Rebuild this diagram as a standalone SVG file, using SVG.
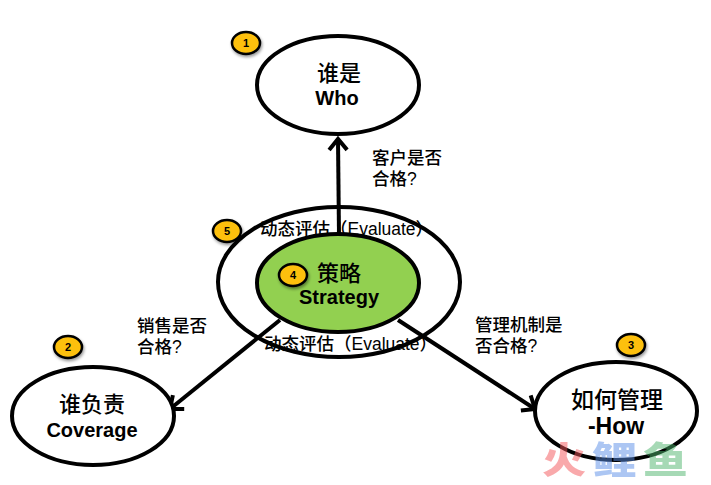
<svg xmlns="http://www.w3.org/2000/svg" width="711" height="485" viewBox="0 0 711 485">
<style>
text{font-family:"Liberation Sans","Noto Sans CJK SC",sans-serif;fill:#000}
.n{fill:#fff;stroke:#000;stroke-width:4}
.c{fill:none;stroke:#000;stroke-width:4}
.cn{font-size:22px;font-weight:500;text-anchor:middle}
.en{font-size:20px;font-weight:700;text-anchor:middle}
.lb{font-size:17.5px;font-weight:500}
.b{fill:#fdc010;stroke:#000;stroke-width:2.5;filter:url(#s)}
.bt{font-size:11px;font-weight:700;text-anchor:middle}
.wm{font-size:42px;font-weight:900;font-family:"Noto Sans CJK SC",sans-serif}
</style>
<defs>
<filter id="s" x="-30%" y="-30%" width="170%" height="170%"><feDropShadow dx="1" dy="2" stdDeviation="1.5" flood-color="#000" flood-opacity=".4"/></filter>
<marker id="a" markerUnits="userSpaceOnUse" markerWidth="24" markerHeight="24" refX="15" refY="12" orient="auto"><path d="M4 3L15 12L4 21" fill="none" stroke="#000" stroke-width="4"/></marker>
</defs>
<g id="outer"><ellipse class="n" cx="339" cy="282" rx="121" ry="75"/></g>
<g id="connectors">
<path class="c" d="M339 236L338 139" marker-end="url(#a)"/>
<path class="c" d="M280 320L170 409" marker-end="url(#a)"/>
<path class="c" d="M398 320L535 409" marker-end="url(#a)"/>
</g>
<g id="eval-top"><text class="lb" x="260" y="235">动态评估（Evaluate）</text></g>
<g id="strategy"><ellipse class="n" cx="338" cy="283" rx="81" ry="49" style="fill:#92d050"/>
<text class="cn" x="339" y="281">策略</text><text class="en" x="339" y="304">Strategy</text>
<ellipse class="b" cx="293" cy="275" rx="14" ry="11"/><text class="bt" x="293" y="279">4</text></g>
<g id="eval-bottom"><text class="lb" x="264" y="350">动态评估（Evaluate）</text></g>
<g id="who"><ellipse class="n" cx="338" cy="85" rx="81" ry="49"/>
<text class="cn" x="339" y="81">谁是</text><text class="en" x="337" y="105">Who</text></g>
<g id="coverage"><ellipse class="n" cx="93" cy="416" rx="81" ry="49"/>
<text class="cn" x="92" y="412">谁负责</text><text class="en" x="92" y="437">Coverage</text></g>
<g id="how"><ellipse class="n" cx="616" cy="411" rx="81" ry="49"/>
<text class="cn" x="617" y="408" style="font-size:23px">如何管理</text><text class="en" x="616" y="434" style="font-size:23px">-How</text></g>
<g id="badge1"><ellipse class="b" cx="246" cy="43" rx="14" ry="11"/><text class="bt" x="246" y="47">1</text></g>
<g id="badge2"><ellipse class="b" cx="68" cy="347" rx="14" ry="11"/><text class="bt" x="68" y="351">2</text></g>
<g id="badge3"><ellipse class="b" cx="631" cy="345" rx="14" ry="11"/><text class="bt" x="631" y="349">3</text></g>
<g id="badge5"><ellipse class="b" cx="227" cy="231" rx="14" ry="11"/><text class="bt" x="227" y="235">5</text></g>
<g id="labels">
<text class="lb" x="372" y="164">客户是否</text><text class="lb" x="372" y="185">合格?</text>
<text class="lb" x="137" y="332">销售是否</text><text class="lb" x="137" y="353">合格?</text>
<text class="lb" x="475" y="331">管理机制是</text><text class="lb" x="475" y="352">否合格?</text>
</g>
<g id="watermark" opacity=".5">
<text class="wm" transform="translate(542 474) scale(1.05 .88)" style="fill:#f4565a">火</text>
<text class="wm" transform="translate(592 474) scale(1.07 .88)" style="fill:#5b8fe8">鲤</text>
<text class="wm" transform="translate(643 474) scale(1.07 .88)" style="fill:#4fb56e">鱼</text>
</g>
</svg>
